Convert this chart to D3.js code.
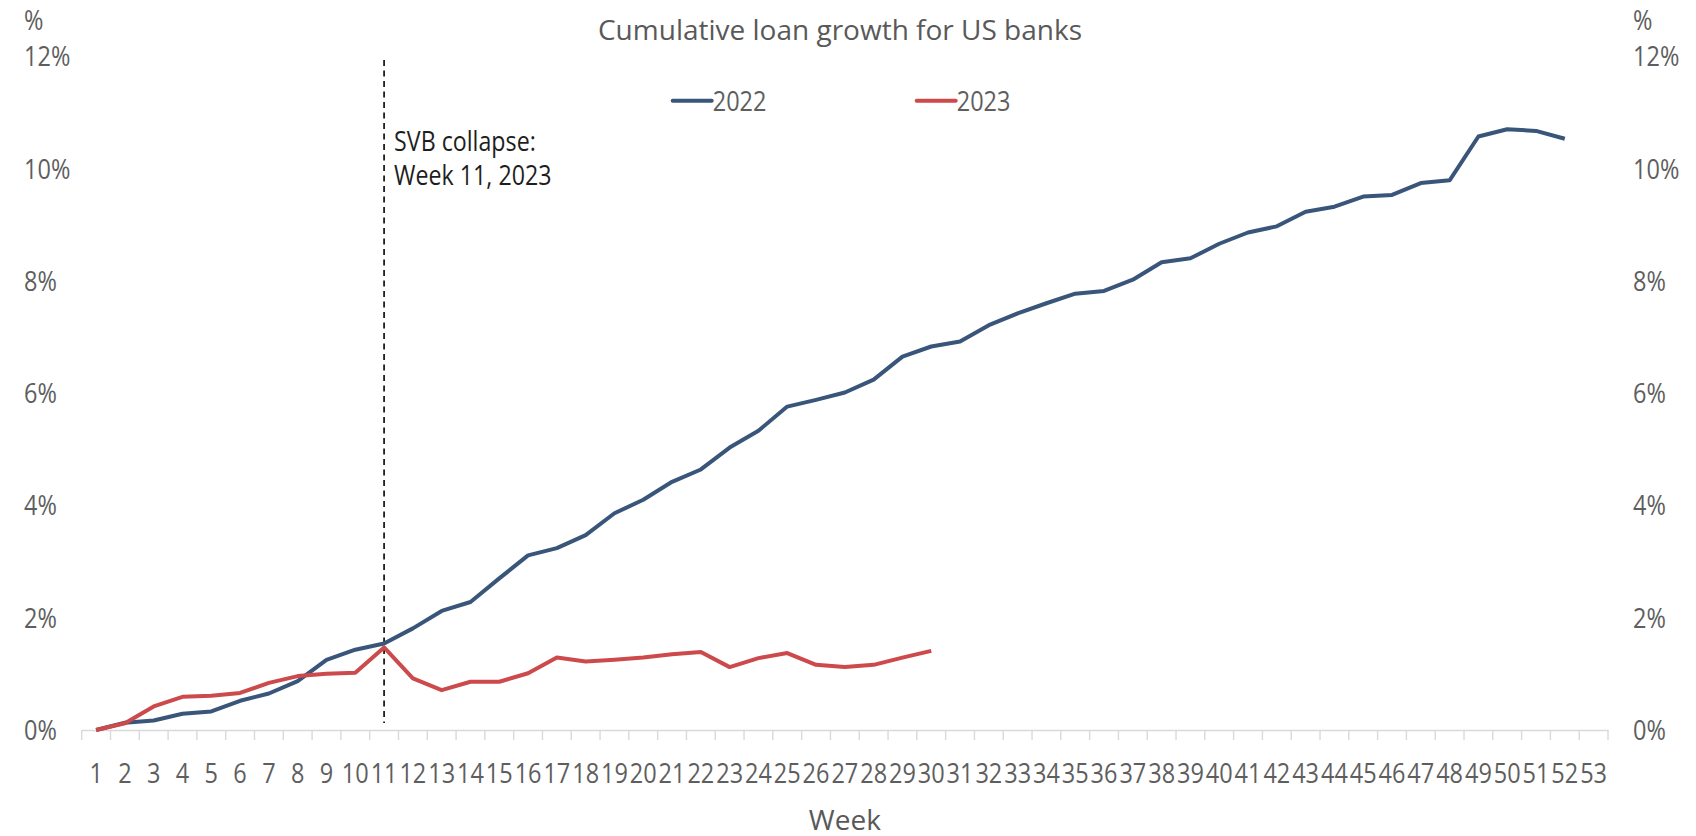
<!DOCTYPE html>
<html>
<head>
<meta charset="utf-8">
<script src="https://cdn.jsdelivr.net/npm/d3@7/dist/d3.min.js"></script>
<style>
  html, body { margin: 0; padding: 0; background: #ffffff; }
  svg { display: block; }
  text { font-family: "Open Sans", "Noto Sans", sans-serif; }
</style>
</head>
<body>
<svg id="chart" width="1696" height="836"></svg>
<script>
// Week categories on the x axis
const weeks = ["1","2","3","4","5","6","7","8","9","10","11","12","13","14","15","16","17","18","19","20",
  "21","22","23","24","25","26","27","28","29","30","31","32","33","34","35","36","37","38","39","40",
  "41","42","43","44","45","46","47","48","49","50","51","52","53"];

// Cumulative loan growth, % (weeks 1..52 for 2022)
const growth2022 = [0.00, 0.13, 0.17, 0.29, 0.33, 0.52, 0.65, 0.87, 1.25, 1.43,
  1.54, 1.81, 2.12, 2.28, 2.70, 3.11, 3.24, 3.47, 3.86, 4.10,
  4.42, 4.64, 5.03, 5.33, 5.76, 5.88, 6.01, 6.24, 6.65, 6.83,
  6.92, 7.21, 7.42, 7.60, 7.77, 7.82, 8.02, 8.33, 8.40, 8.66,
  8.86, 8.97, 9.23, 9.32, 9.50, 9.53, 9.74, 9.79, 10.57, 10.70,
  10.67, 10.53];

// Cumulative loan growth, % (weeks 1..30 for 2023)
const growth2023 = [0.00, 0.12, 0.42, 0.59, 0.61, 0.66, 0.84, 0.96, 1.00, 1.02,
  1.47, 0.92, 0.71, 0.86, 0.86, 1.01, 1.29, 1.22, 1.25, 1.29,
  1.35, 1.39, 1.12, 1.28, 1.37, 1.16, 1.12, 1.16, 1.29, 1.41];

// Y axis ticks, %
const yTicks = [0, 2, 4, 6, 8, 10, 12];

const seriesNames = ["2022", "2023"];
const seriesColors = ["#39557a", "#cc4a4b"];
const eventWeek = "11";
const eventLines = ["SVB collapse:", "Week 11, 2023"];

const svg = d3.select("#chart");
const tickColor = "#5e5e5e";
const narrow = 0.84;

const x = d3.scaleBand().domain(weeks).range([81.7, 1608]).padding(0);
const y = d3.scaleLinear().domain([0, 12]).range([730, 56.2]);
const cx = w => x(w) + x.bandwidth() / 2;

// Title
svg.append("text")
  .attr("x", 840).attr("y", 40)
  .attr("text-anchor", "middle")
  .attr("font-size", 28)
  .attr("fill", "#595959")
  .text("Cumulative loan growth for US banks");

// Unit labels above both value axes
[24, 1633].forEach(px => {
  svg.append("text")
    .attr("transform", `translate(${px},30) scale(${narrow},1)`)
    .attr("font-size", 28).attr("fill", tickColor)
    .text("%");
});

// Left and right value labels
[24, 1633].forEach(px => {
  svg.append("g").selectAll("text").data(yTicks).join("text")
    .attr("transform", d => `translate(${px},${y(d) + 10}) scale(${narrow},1)`)
    .attr("font-size", 28).attr("fill", tickColor)
    .text(d => d + "%");
});

// Category axis: baseline, boundary ticks and week labels
const xAxis = svg.append("g").attr("transform", "translate(0,730)")
  .call(d3.axisBottom(x).tickSize(0).tickPadding(0));
xAxis.select(".domain").attr("stroke", "#d9d9d9").attr("stroke-width", 1.6);
xAxis.selectAll(".tick text")
  .attr("y", 53).attr("dy", null)
  .attr("font-family", "Open Sans, Noto Sans, sans-serif")
  .attr("font-size", 28).attr("fill", tickColor)
  .attr("transform", `scale(${narrow},1)`);

const bounds = weeks.map(w => x(w)).concat([x.range()[1]]);
svg.append("g").selectAll("line").data(bounds).join("line")
  .attr("x1", d => d).attr("x2", d => d)
  .attr("y1", 730).attr("y2", 740)
  .attr("stroke", "#d9d9d9").attr("stroke-width", 1.4);

// Axis title
svg.append("text")
  .attr("x", (x.range()[0] + x.range()[1]) / 2).attr("y", 830)
  .attr("text-anchor", "middle")
  .attr("font-size", 28).attr("fill", "#595959")
  .text("Week");

// Event marker
svg.append("line")
  .attr("x1", cx(eventWeek)).attr("x2", cx(eventWeek))
  .attr("y1", 60).attr("y2", 723)
  .attr("stroke", "#111").attr("stroke-width", 1.7)
  .attr("stroke-dasharray", "6,4.5");

svg.append("g").selectAll("text").data(eventLines).join("text")
  .attr("transform", (d, i) => `translate(${cx(eventWeek) + 10},${151 + i * 34}) scale(0.86,1)`)
  .attr("font-size", 27).attr("fill", "#1e1e1e")
  .text(d => d);

// Series lines
const line = d3.line()
  .x((d, i) => cx(weeks[i]))
  .y(d => y(d));

[growth2022, growth2023].forEach((vals, k) => {
  svg.append("path")
    .datum(vals)
    .attr("fill", "none")
    .attr("stroke", seriesColors[k])
    .attr("stroke-width", 4)
    .attr("stroke-linejoin", "round")
    .attr("stroke-linecap", "butt")
    .attr("d", line);
});

// Legend
const legendX = [672.7, 916.7];
seriesNames.forEach((name, k) => {
  svg.append("line")
    .attr("x1", legendX[k]).attr("x2", legendX[k] + 39)
    .attr("y1", 100.7).attr("y2", 100.7)
    .attr("stroke", seriesColors[k]).attr("stroke-width", 4)
    .attr("stroke-linecap", "round");
  svg.append("text")
    .attr("transform", `translate(${legendX[k] + 40},111) scale(${narrow},1)`)
    .attr("font-size", 28).attr("fill", tickColor)
    .text(name);
});
</script>
</body>
</html>
